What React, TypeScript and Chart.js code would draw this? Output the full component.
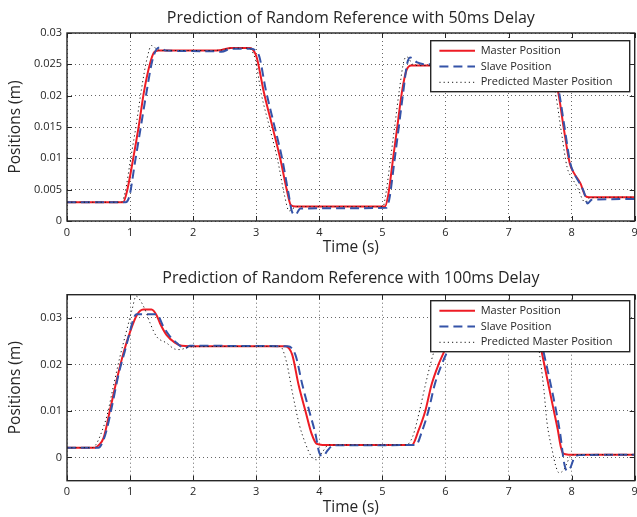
import React, { useEffect, useRef } from "react";
import { Chart, registerables } from "chart.js";

Chart.register(...registerables);

// ---------- data ----------
const xTicks = [0, 1, 2, 3, 4, 5, 6, 7, 8, 9];
const yTicksTop = [0, 0.005, 0.01, 0.015, 0.02, 0.025, 0.03];
const yTicksBottom = [0, 0.01, 0.02, 0.03];
const seriesLabels = ["Master Position", "Slave Position", "Predicted Master Position"];
const titleTop = "Prediction of Random Reference with 50ms Delay";
const titleBottom = "Prediction of Random Reference with 100ms Delay";
const xAxisLabel = "Time (s)";
const yAxisLabel = "Positions (m)";

// 50 ms delay
const masterT50 = [0, 0.89, 0.95, 1.05, 1.14, 1.22, 1.31, 1.38, 1.45, 2.3, 2.45, 2.6, 2.9, 2.97, 3.01, 3.12, 3.25, 3.38, 3.49, 3.55, 3.62, 5.04, 5.09, 5.17, 5.24, 5.31, 5.38, 5.46, 5.6, 7.68, 7.79, 7.88, 7.97, 8.04, 8.14, 8.22, 8.28, 9];
const masterV50 = [0.003, 0.003, 0.0047, 0.01, 0.0153, 0.0206, 0.0249, 0.0269, 0.0272, 0.0272, 0.0273, 0.0276, 0.0276, 0.027, 0.026, 0.0206, 0.0153, 0.01, 0.0047, 0.0025, 0.0023, 0.0023, 0.004, 0.01, 0.0153, 0.0206, 0.024, 0.0248, 0.0248, 0.0248, 0.0204, 0.0145, 0.0092, 0.0076, 0.006, 0.004, 0.0038, 0.0038];

const slaveT50 = [0, 0.93, 0.99, 1.08, 1.17, 1.26, 1.35, 1.42, 1.48, 1.56, 2.3, 2.45, 2.6, 2.92, 2.99, 3.05, 3.15, 3.28, 3.41, 3.51, 3.57, 3.62, 3.7, 5.06, 5.11, 5.19, 5.26, 5.33, 5.39, 5.44, 5.55, 5.7, 7.7, 7.8, 7.89, 7.98, 8.06, 8.14, 8.2, 8.25, 8.32, 9];
const slaveV50 = [0.003, 0.003, 0.004, 0.0095, 0.015, 0.0205, 0.0255, 0.0274, 0.0277, 0.0272, 0.0271, 0.027, 0.0275, 0.0275, 0.0272, 0.0262, 0.021, 0.0155, 0.01, 0.0045, 0.0014, 0.001, 0.002, 0.0021, 0.0035, 0.0095, 0.015, 0.0205, 0.025, 0.0261, 0.0253, 0.025, 0.025, 0.0206, 0.0148, 0.0092, 0.0072, 0.0058, 0.0045, 0.0028, 0.0034, 0.0035];

const predT50 = [0, 0.86, 0.92, 1.01, 1.1, 1.18, 1.27, 1.34, 1.4, 1.48, 2.3, 2.45, 2.6, 2.88, 2.95, 2.99, 3.08, 3.21, 3.34, 3.45, 3.52, 3.58, 3.66, 5.01, 5.05, 5.13, 5.2, 5.27, 5.34, 5.39, 5.48, 5.6, 7.64, 7.75, 7.84, 7.93, 8.01, 8.1, 8.17, 8.21, 8.28, 9];
const predV50 = [0.003, 0.003, 0.0045, 0.01, 0.0155, 0.021, 0.026, 0.028, 0.0276, 0.0272, 0.0272, 0.0273, 0.0276, 0.0276, 0.0268, 0.0256, 0.0203, 0.015, 0.0097, 0.004, 0.0016, 0.002, 0.0023, 0.0023, 0.004, 0.01, 0.0155, 0.021, 0.0255, 0.0262, 0.025, 0.0248, 0.0248, 0.02, 0.014, 0.0085, 0.0068, 0.0052, 0.0035, 0.003, 0.0037, 0.0038];

// 100 ms delay
const masterT100 = [0, 0.44, 0.5, 0.58, 0.683, 0.789, 0.894, 1.0, 1.106, 1.21, 1.34, 1.42, 1.476, 1.58, 1.71, 1.82, 1.95, 3.46, 3.57, 3.67, 3.78, 3.88, 3.96, 4.05, 5.47, 5.57, 5.68, 5.78, 5.89, 5.97, 6.1, 6.25, 6.4, 7.42, 7.53, 7.6, 7.7, 7.78, 7.83, 7.87, 7.95, 9];
const masterV100 = [0.0021, 0.0021, 0.0026, 0.0042, 0.0103, 0.0167, 0.0224, 0.027, 0.0306, 0.0318, 0.0318, 0.0306, 0.0288, 0.0263, 0.0247, 0.024, 0.0239, 0.0239, 0.0221, 0.0157, 0.01, 0.005, 0.0029, 0.0027, 0.0027, 0.0057, 0.01, 0.0157, 0.02, 0.0225, 0.0265, 0.0295, 0.03, 0.03, 0.0224, 0.0178, 0.0112, 0.006, 0.0022, 0.0008, 0.0006, 0.0006];

const slaveT100 = [0, 0.5, 0.57, 0.63, 0.72, 0.82, 0.92, 1.0, 1.06, 1.1, 1.42, 1.53, 1.635, 1.74, 1.87, 1.95, 3.5, 3.62, 3.73, 3.84, 3.94, 4.0, 4.06, 4.13, 4.22, 5.53, 5.63, 5.73, 5.83, 5.94, 6.02, 6.15, 6.3, 6.45, 7.45, 7.56, 7.64, 7.74, 7.82, 7.88, 7.93, 7.98, 8.04, 8.12, 9];
const slaveV100 = [0.0021, 0.0021, 0.0035, 0.006, 0.0115, 0.018, 0.023, 0.0272, 0.03, 0.0308, 0.0308, 0.0281, 0.026, 0.0246, 0.0235, 0.024, 0.0239, 0.0221, 0.0157, 0.01, 0.005, 0.001, 0.0003, 0.0015, 0.0026, 0.0027, 0.0057, 0.01, 0.0157, 0.02, 0.0225, 0.0262, 0.0292, 0.03, 0.03, 0.0224, 0.0175, 0.011, 0.005, -0.0011, -0.0029, -0.0022, -0.0001, 0.0005, 0.0006];

const predT100 = [0, 0.4, 0.46, 0.524, 0.63, 0.735, 0.84, 0.947, 1.03, 1.095, 1.16, 1.24, 1.32, 1.42, 1.58, 1.71, 1.79, 1.95, 3.38, 3.48, 3.58, 3.68, 3.78, 3.87, 3.95, 4.05, 4.15, 5.38, 5.48, 5.58, 5.68, 5.78, 5.86, 6.0, 6.15, 6.3, 7.4, 7.51, 7.56, 7.61, 7.69, 7.75, 7.8, 7.88, 7.93, 7.98, 8.05, 9];
const predV100 = [0.0021, 0.0021, 0.0028, 0.0046, 0.0088, 0.0153, 0.0217, 0.0274, 0.0317, 0.0347, 0.0338, 0.0317, 0.0288, 0.026, 0.0246, 0.0233, 0.0232, 0.0238, 0.0239, 0.0205, 0.0135, 0.0072, 0.003, 0.0003, -0.0005, 0.0012, 0.0027, 0.0027, 0.0045, 0.0095, 0.0155, 0.021, 0.0245, 0.0285, 0.0305, 0.03, 0.03, 0.0203, 0.0146, 0.0075, 0.0017, -0.0019, -0.0033, -0.0026, -0.0011, 0.0003, 0.0006, 0.0006];

// ---------- styling ----------
const FONT = "'Open Sans', 'Noto Sans', sans-serif";
const TEXT = "#262626";
const RED = "#ee1c25";
const BLUE = "#3553a8";
const DOT = "#1a1a1a";

function zip(t: number[], v: number[]) {
  return t.map((x, i) => ({ x, y: v[i] }));
}

function fmt(v: number) {
  return String(Number(v.toFixed(4)));
}

const framePlugin = {
  id: "matlabFrame",
  afterDraw(chart: any, _args: any, opts: any) {
    const { ctx, chartArea: a, scales } = chart;
    ctx.save();
    ctx.setLineDash([]);
    ctx.strokeStyle = TEXT;
    ctx.lineWidth = 1;
    const tl = 5;
    ctx.beginPath();
    scales.x.ticks.forEach((t: any) => {
      const px = Math.round(scales.x.getPixelForValue(t.value)) + 0.5;
      ctx.moveTo(px, a.bottom);
      ctx.lineTo(px, a.bottom - tl);
      ctx.moveTo(px, a.top);
      ctx.lineTo(px, a.top + tl);
    });
    scales.y.ticks.forEach((t: any) => {
      const py = Math.round(scales.y.getPixelForValue(t.value)) + 0.5;
      ctx.moveTo(a.left, py);
      ctx.lineTo(a.left + tl, py);
      ctx.moveTo(a.right, py);
      ctx.lineTo(a.right - tl, py);
    });
    ctx.stroke();
    ctx.lineWidth = 1.4;
    ctx.strokeRect(a.left, a.top, a.right - a.left, a.bottom - a.top);

    // legend box
    const w = 199;
    const h = 51;
    const lx = a.right - 5 - w;
    const ly = a.top + (opts.legendTop ?? 7.7);
    ctx.fillStyle = "#fff";
    ctx.fillRect(lx, ly, w, h);
    ctx.lineWidth = 1.4;
    ctx.strokeStyle = TEXT;
    ctx.strokeRect(lx, ly, w, h);
    chart.data.datasets.forEach((ds: any, i: number) => {
      const y = ly + 10 + i * 15.8;
      ctx.beginPath();
      ctx.setLineDash(ds.borderDash || []);
      ctx.strokeStyle = ds.borderColor;
      ctx.lineWidth = ds.borderWidth;
      ctx.moveTo(lx + 8.7, y);
      ctx.lineTo(lx + 44.3, y);
      ctx.stroke();
      ctx.setLineDash([]);
      ctx.fillStyle = TEXT;
      ctx.font = `11px ${FONT}`;
      ctx.textBaseline = "middle";
      ctx.textAlign = "left";
      ctx.fillText(ds.label, lx + 50, y);
    });
    ctx.restore();
  },
};

type PanelProps = {
  title: string;
  height: number;
  titleCenter: number;
  plotTop: number;
  plotBottom: number;
  yMin: number;
  yMax: number;
  yTicks: number[];
  series: { t: number[]; v: number[] }[];
  xTitlePad: number;
  legendTop: number;
};

function Panel(p: PanelProps) {
  const ref = useRef<HTMLCanvasElement | null>(null);
  useEffect(() => {
    if (!ref.current) return;
    const titleSize = 16;
    const lh = titleSize * 1.2;
    const padTop = p.titleCenter - lh / 2;
    const padBottom = p.plotTop - padTop - lh;
    const styles = [
      { borderColor: RED, borderWidth: 2, borderDash: [] as number[] },
      { borderColor: BLUE, borderWidth: 2, borderDash: [9, 5] },
      { borderColor: DOT, borderWidth: 1, borderDash: [1.2, 3] },
    ];
    const datasets = p.series.map((s, i) => ({
      label: seriesLabels[i],
      data: zip(s.t, s.v),
      ...styles[i],
      pointRadius: 0,
      fill: false,
      cubicInterpolationMode: "monotone" as const,
      order: 3 - i,
    }));
    const chart = new Chart(ref.current, {
      type: "line",
      data: { datasets },
      plugins: [framePlugin],
      options: {
        animation: false,
        responsive: false,
        devicePixelRatio: 1,
        layout: { padding: { left: 0, right: 2.3, top: 0, bottom: 0 } },
        font: { family: FONT },
        plugins: {
          legend: { display: false },
          tooltip: { enabled: false },
          title: {
            display: true,
            fullSize: false,
            text: p.title,
            color: TEXT,
            font: { family: FONT, size: titleSize, weight: "normal" as any, lineHeight: 1.2 },
            padding: { top: padTop, bottom: padBottom },
          },
          matlabFrame: { legendTop: p.legendTop },
        } as any,
        scales: {
          x: {
            type: "linear",
            min: 0,
            max: 9,
            afterBuildTicks: (s: any) => {
              s.ticks = xTicks.map((v) => ({ value: v }));
            },
            afterFit: (s: any) => {
              s.height = p.height - p.plotBottom;
              s.paddingLeft = 0;
              s.paddingRight = 0;
            },
            grid: { color: "rgba(0,0,0,0.6)", lineWidth: 1, drawTicks: false, borderDash: [1, 3] } as any,
            border: { display: false, dash: [1, 3] },
            ticks: {
              color: TEXT,
              font: { family: FONT, size: 11 },
              padding: 5,
              maxRotation: 0,
              autoSkip: false,
              callback: (v: any) => fmt(Number(v)),
            },
            title: {
              display: true,
              text: xAxisLabel,
              color: TEXT,
              font: { family: FONT, size: 15.5, lineHeight: 1.2 },
              padding: { top: 0, bottom: p.xTitlePad },
            },
          },
          y: {
            type: "linear",
            min: p.yMin,
            max: p.yMax,
            afterBuildTicks: (s: any) => {
              s.ticks = p.yTicks.map((v) => ({ value: v }));
            },
            afterFit: (s: any) => {
              s.width = 67;
              s.paddingTop = 0;
              s.paddingBottom = 0;
            },
            grid: { color: "rgba(0,0,0,0.6)", lineWidth: 1, drawTicks: false, borderDash: [1, 3] } as any,
            border: { display: false, dash: [1, 3] },
            ticks: {
              color: TEXT,
              font: { family: FONT, size: 11 },
              padding: 5,
              autoSkip: false,
              callback: (v: any) => fmt(Number(v)),
            },
            title: {
              display: true,
              text: yAxisLabel,
              color: TEXT,
              font: { family: FONT, size: 15.5, lineHeight: 1.2 },
              padding: { top: 6.2, bottom: 0 },
            },
          },
        },
      } as any,
    });
    return () => chart.destroy();
  }, []);
  return <canvas ref={ref} width={637} height={p.height} style={{ display: "block", width: 637, height: p.height }} />;
}

export default function App() {
  return (
    <div style={{ position: "absolute", left: 0, top: 0, width: 637, height: 517, background: "#fff" }}>
      <Panel
        title={titleTop}
        height={258}
        titleCenter={18}
        plotTop={33}
        plotBottom={221}
        yMin={0}
        yMax={0.03}
        yTicks={yTicksTop}
        xTitlePad={0.7}
        legendTop={7.7}
        series={[
          { t: masterT50, v: masterV50 },
          { t: slaveT50, v: slaveV50 },
          { t: predT50, v: predV50 },
        ]}
      />
      <Panel
        title={titleBottom}
        height={259}
        titleCenter={20}
        plotTop={36.7}
        plotBottom={222.7}
        yMin={-0.005}
        yMax={0.035}
        yTicks={yTicksBottom}
        xTitlePad={0}
        legendTop={6}
        series={[
          { t: masterT100, v: masterV100 },
          { t: slaveT100, v: slaveV100 },
          { t: predT100, v: predV100 },
        ]}
      />
    </div>
  );
}
